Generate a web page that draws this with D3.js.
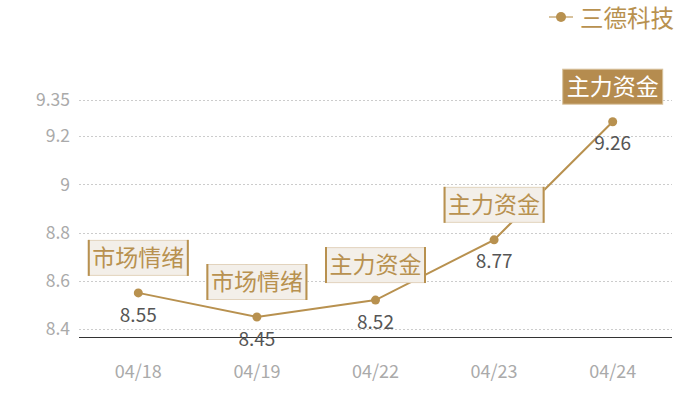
<!DOCTYPE html>
<html>
<head>
<meta charset="utf-8">
<script src="https://cdn.jsdelivr.net/npm/d3@7"></script>
<style>
  body { margin: 0; background: #fff; }
  svg { font-family: "Noto Sans CJK SC", "Noto Sans", sans-serif; }
</style>
</head>
<body>
<div id="chart"></div>
<script>
const dates = ['04/18', '04/19', '04/22', '04/23', '04/24'];
const prices = [8.55, 8.45, 8.52, 8.77, 9.26];
const tags = ['市场情绪', '市场情绪', '主力资金', '主力资金', '主力资金'];
const yTicks = [8.4, 8.6, 8.8, 9, 9.2, 9.35];
const seriesName = '三德科技';

const width = 700;
const height = 400;
const margin = { top: 100, right: 28, bottom: 63, left: 79 };

const gold = '#b8914f';
const axisGrey = '#aaa';

const svg = d3.select('#chart')
  .append('svg')
  .attr('width', width)
  .attr('height', height);

const x = d3.scaleBand()
  .domain(dates)
  .range([margin.left, width - margin.right]);

const y = d3.scaleLinear()
  .domain([8.367, 9.35])
  .range([height - margin.bottom, margin.top]);

// grid lines
svg.append('g')
  .selectAll('line')
  .data(yTicks)
  .join('line')
  .attr('x1', margin.left)
  .attr('x2', width - margin.right)
  .attr('y1', (d) => Math.round(y(d)) + 0.5)
  .attr('y2', (d) => Math.round(y(d)) + 0.5)
  .attr('stroke', '#ccc')
  .attr('stroke-dasharray', '2,2');

// y labels
svg.append('g')
  .selectAll('text')
  .data(yTicks)
  .join('text')
  .attr('x', margin.left - 9)
  .attr('y', (d) => y(d))
  .attr('dy', '0.35em')
  .attr('text-anchor', 'end')
  .attr('fill', axisGrey)
  .style('font-size', '17.5px')
  .text((d) => d);

// x axis line
svg.append('line')
  .attr('x1', margin.left)
  .attr('x2', width - margin.right)
  .attr('y1', height - margin.bottom + 0.5)
  .attr('y2', height - margin.bottom + 0.5)
  .attr('stroke', '#333');

// x labels
svg.append('g')
  .selectAll('text')
  .data(dates)
  .join('text')
  .attr('x', (d) => x(d) + x.bandwidth() / 2)
  .attr('y', height - margin.bottom + 35)
  .attr('dy', '0.35em')
  .attr('text-anchor', 'middle')
  .attr('fill', axisGrey)
  .style('font-size', '18px')
  .text((d) => d);

const points = dates.map((d, i) => ({
  date: d,
  value: prices[i],
  tag: tags[i],
  cx: x(d) + x.bandwidth() / 2,
  cy: y(prices[i]),
  last: i === dates.length - 1,
}));

// line
svg.append('path')
  .datum(points)
  .attr('fill', 'none')
  .attr('stroke', gold)
  .attr('stroke-width', 2)
  .attr('d', d3.line().x((d) => d.cx).y((d) => d.cy));

// dots
svg.append('g')
  .selectAll('circle')
  .data(points)
  .join('circle')
  .attr('cx', (d) => d.cx)
  .attr('cy', (d) => d.cy)
  .attr('r', 4.5)
  .attr('fill', gold);

// value labels
svg.append('g')
  .selectAll('text')
  .data(points)
  .join('text')
  .attr('x', (d) => d.cx)
  .attr('y', (d) => d.cy + 22)
  .attr('dy', '0.35em')
  .attr('text-anchor', 'middle')
  .attr('fill', '#555')
  .style('font-size', '19px')
  .text((d) => d.value);

// annotation boxes
const boxW = 101;
const boxH = 36;
const tagsG = svg.append('g')
  .selectAll('g')
  .data(points)
  .join('g')
  .attr('transform', (d) => `translate(${d.cx - boxW / 2},${d.cy - 17 - boxH})`);

tagsG.append('rect')
  .attr('x', 0.5)
  .attr('y', 0.5)
  .attr('width', boxW - 1)
  .attr('height', boxH - 1)
  .attr('fill', (d) => (d.last ? '#b58c4f' : '#f3efe9'))
  .attr('stroke', (d) => (d.last ? '#d8c29c' : '#e2d3bd'));

tagsG.filter((d) => !d.last)
  .selectAll('line')
  .data([0, boxW])
  .join('line')
  .attr('x1', (d) => (d === 0 ? 1 : d - 1))
  .attr('x2', (d) => (d === 0 ? 1 : d - 1))
  .attr('y1', 0)
  .attr('y2', boxH)
  .attr('stroke', gold)
  .attr('stroke-width', 2);

tagsG.append('text')
  .attr('x', boxW / 2)
  .attr('y', boxH / 2)
  .attr('dy', '0.36em')
  .attr('text-anchor', 'middle')
  .attr('fill', (d) => (d.last ? '#fff' : gold))
  .style('font-size', '23px')
  .text((d) => d.tag);

// legend
const legend = svg.append('g').attr('transform', 'translate(549,17)');
legend.append('line')
  .attr('x1', 0)
  .attr('x2', 24)
  .attr('stroke', '#d8c29c')
  .attr('stroke-width', 2);
legend.append('circle')
  .attr('cx', 12)
  .attr('r', 5)
  .attr('fill', gold);
legend.append('text')
  .attr('x', 31)
  .attr('y', 2)
  .attr('dy', '0.35em')
  .attr('fill', gold)
  .style('font-size', '23.5px')
  .text(seriesName);
</script>
</body>
</html>
